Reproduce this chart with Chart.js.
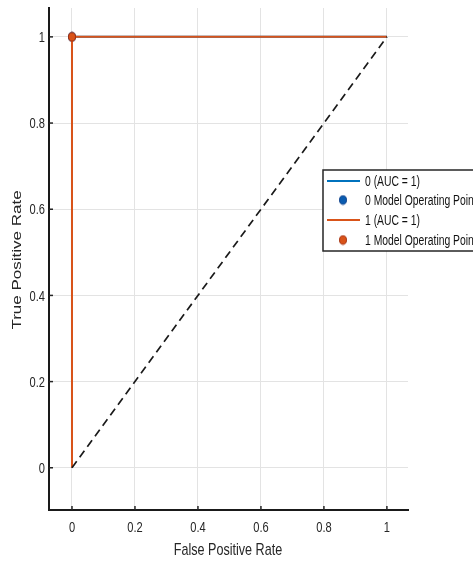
<!DOCTYPE html>
<html>
<head>
<meta charset="utf-8">
<script src="https://cdn.jsdelivr.net/npm/chart.js@4.4.1/dist/chart.umd.min.js"></script>
<style>
  html, body { margin: 0; padding: 0; background: #fff; }
  #wrap { width: 473px; height: 561px; }
</style>
</head>
<body>
<div id="wrap"><canvas id="rocChart" width="473" height="561"></canvas></div>
<script>
// ROC data per class
const fpr0 = [0, 0, 1];
const tpr0 = [0, 1, 1];
const fpr1 = [0, 0, 1];
const tpr1 = [0, 1, 1];
// model operating points
const opPoint0 = [0, 1];
const opPoint1 = [0, 1];
// chance line
const chanceX = [0, 1];
const chanceY = [0, 1];
// ticks
const xTicks = [0, 0.2, 0.4, 0.6, 0.8, 1];
const yTicks = [0, 0.2, 0.4, 0.6, 0.8, 1];
const legendLabels = ['0 (AUC = 1)', '0 Model Operating Point', '1 (AUC = 1)', '1 Model Operating Point'];

const FONT = '"Liberation Sans", Arial, sans-serif';
const SQUASH = 0.74;  // the source picture is narrowed horizontally
const TEXT = '#262626';
const BLUE = '#0072BD';
const ORANGE = '#D95319';

function toPoints(xs, ys) {
    return xs.map((x, i) => ({ x: x, y: ys[i] }));
}

// small tall ellipse used as marker
function makeDot(fill, edge) {
    const c = document.createElement('canvas');
    c.width = 10; c.height = 11;
    const g = c.getContext('2d');
    g.fillStyle = fill;
    g.strokeStyle = edge;
    g.lineWidth = 1;
    g.beginPath();
    g.ellipse(5, 5.5, 3.5, 4.3, 0, 0, Math.PI * 2);
    g.fill();
    g.stroke();
    return c;
}
const blueDot = makeDot('#0A5CB0', '#0B3E8A');
const orangeDot = makeDot(ORANGE, '#A32C0A');

// narrowed text helper
function squashText(ctx, text, x, y, align) {
    ctx.save();
    ctx.translate(x, y);
    ctx.scale(SQUASH, 1);
    ctx.textAlign = align;
    ctx.fillText(text, 0, 0);
    ctx.restore();
}

// draws inward tick marks, tick labels, titles and the legend box
const extrasPlugin = {
    id: 'extras',
    afterDraw(chart) {
        const ctx = chart.ctx;
        const xs = chart.scales.x, ys = chart.scales.y;
        const area = chart.chartArea;
        ctx.save();
        ctx.strokeStyle = '#262626';
        ctx.lineWidth = 1.5;
        ctx.fillStyle = TEXT;
        ctx.font = '15px ' + FONT;
        ctx.textBaseline = 'middle';
        xTicks.forEach(t => {
            const px = xs.getPixelForValue(t);
            ctx.beginPath();
            ctx.moveTo(px, area.bottom);
            ctx.lineTo(px, area.bottom - 4);
            ctx.stroke();
            squashText(ctx, String(t), px, 528, 'center');
        });
        yTicks.forEach(t => {
            const py = ys.getPixelForValue(t);
            ctx.beginPath();
            ctx.moveTo(area.left, py);
            ctx.lineTo(area.left + 4, py);
            ctx.stroke();
            squashText(ctx, String(t), 45, py + 1, 'right');
        });

        // axis titles
        ctx.font = '17px ' + FONT;
        squashText(ctx, 'False Positive Rate', 228, 550, 'center');
        ctx.save();
        ctx.translate(18, 260);
        ctx.scale(SQUASH, 1);
        ctx.rotate(-Math.PI / 2);
        ctx.textAlign = 'center';
        ctx.fillText('True Positive Rate', 0, 0);
        ctx.restore();

        // legend
        const lx = 323, ly = 170, lw = 170, lh = 81;
        ctx.fillStyle = '#fff';
        ctx.fillRect(lx, ly, lw, lh);
        ctx.strokeStyle = '#262626';
        ctx.lineWidth = 1.5;
        ctx.strokeRect(lx, ly, lw, lh);
        const rows = [181, 200, 220, 240];
        const kinds = [
            { type: 'line', color: BLUE },
            { type: 'dot', img: blueDot },
            { type: 'line', color: ORANGE },
            { type: 'dot', img: orangeDot }
        ];
        ctx.font = '14px ' + FONT;
        rows.forEach((ry, i) => {
            const k = kinds[i];
            if (k.type === 'line') {
                ctx.strokeStyle = k.color;
                ctx.lineWidth = 2;
                ctx.beginPath();
                ctx.moveTo(327, ry);
                ctx.lineTo(360, ry);
                ctx.stroke();
            } else {
                ctx.drawImage(k.img, 338, ry - 5.5);
            }
            ctx.fillStyle = '#111';
            squashText(ctx, legendLabels[i], 365, ry + 1, 'left');
        });
        ctx.restore();
    }
};

const ctx = document.getElementById('rocChart').getContext('2d');
const rocChart = new Chart(ctx, {
    type: 'scatter',
    data: {
        datasets: [
            {
                label: legendLabels[0],
                data: toPoints(fpr0, tpr0),
                showLine: true,
                borderColor: BLUE,
                borderWidth: 2,
                pointRadius: 0,
                order: 5
            },
            {
                label: legendLabels[1],
                data: toPoints([opPoint0[0]], [opPoint0[1]]),
                pointStyle: blueDot,
                order: 4
            },
            {
                label: legendLabels[2],
                data: toPoints(fpr1, tpr1),
                showLine: true,
                borderColor: ORANGE,
                borderWidth: 2,
                pointRadius: 0,
                order: 3
            },
            {
                label: legendLabels[3],
                data: toPoints([opPoint1[0]], [opPoint1[1]]),
                pointStyle: orangeDot,
                order: 1
            },
            {
                label: 'chance',
                data: toPoints(chanceX, chanceY),
                showLine: true,
                borderColor: '#1a1a1a',
                borderWidth: 1.7,
                borderDash: [8, 5],
                pointRadius: 0,
                order: 2
            }
        ]
    },
    options: {
        responsive: false,
        animation: false,
        layout: { padding: { left: 0, top: 8, right: 65, bottom: 0 } },
        plugins: {
            legend: { display: false },
            tooltip: { enabled: false }
        },
        scales: {
            x: {
                type: 'linear',
                min: -0.073,
                max: 1.067,
                afterBuildTicks: s => { s.ticks = xTicks.map(v => ({ value: v })); },
                afterFit: s => { s.height = 51; },
                grid: { color: '#e3e3e3', lineWidth: 1, drawTicks: false },
                border: { display: true, color: '#1a1a1a', width: 2 },
                ticks: { display: false }
            },
            y: {
                type: 'linear',
                min: -0.098,
                max: 1.067,
                afterBuildTicks: s => { s.ticks = yTicks.map(v => ({ value: v })); },
                afterFit: s => { s.width = 49; },
                grid: { color: '#e3e3e3', lineWidth: 1, drawTicks: false },
                border: { display: true, color: '#1a1a1a', width: 2 },
                ticks: { display: false }
            }
        }
    },
    plugins: [extrasPlugin]
});
</script>
</body>
</html>
